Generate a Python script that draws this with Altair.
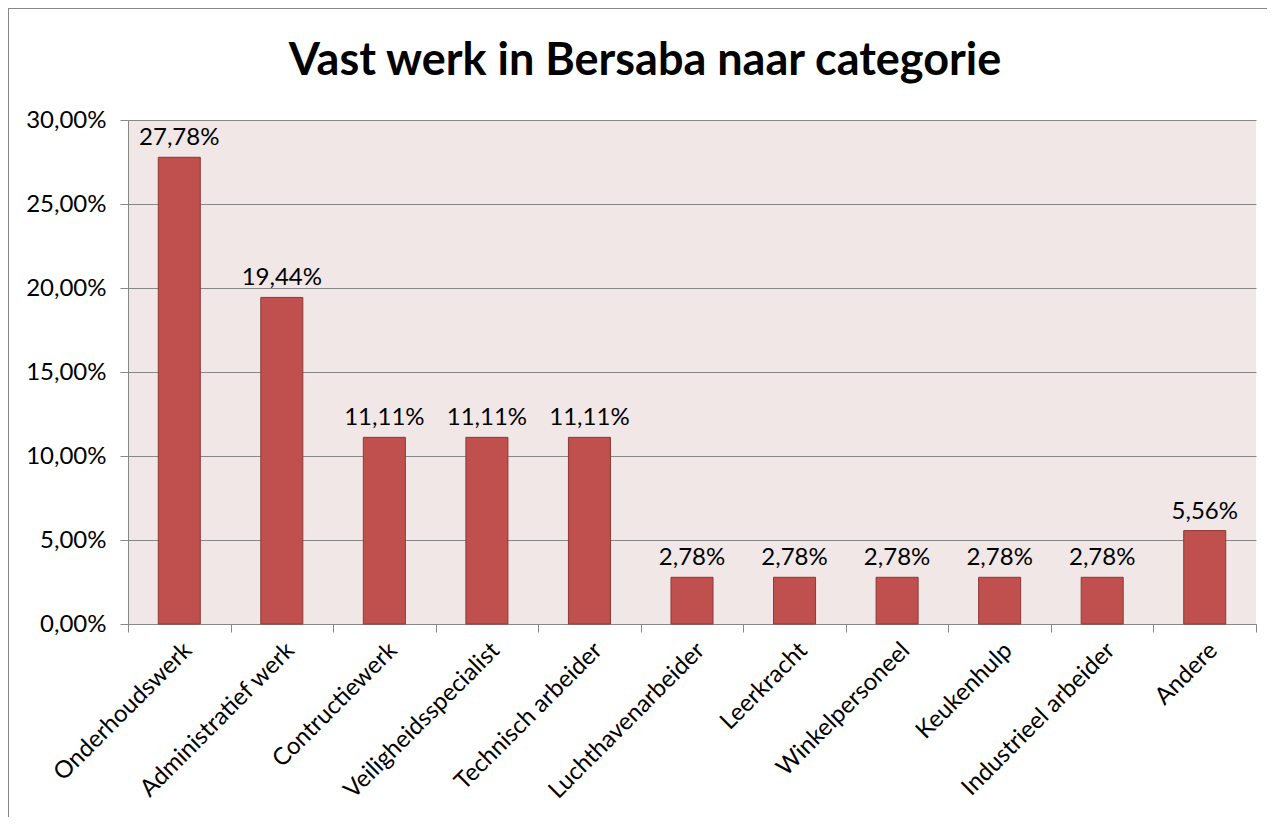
import altair as alt
import pandas as pd

title_text = "Vast werk in Bersaba naar categorie"
categories = ["Onderhoudswerk", "Administratief werk", "Contructiewerk", "Veiligheidsspecialist",
              "Technisch arbeider", "Luchthavenarbeider", "Leerkracht", "Winkelpersoneel",
              "Keukenhulp", "Industrieel arbeider", "Andere"]
values = [27.78, 19.44, 11.11, 11.11, 11.11, 2.78, 2.78, 2.78, 2.78, 2.78, 5.56]
labels = ["27,78%", "19,44%", "11,11%", "11,11%", "11,11%", "2,78%", "2,78%", "2,78%", "2,78%", "2,78%", "5,56%"]

df = pd.DataFrame({"cat": categories, "val": values, "lab": labels})
tdf = pd.DataFrame({"t": [title_text]})

FONT = "Lato"
FS = 24

x = alt.X("cat:N", sort=categories, title=None,
          scale=alt.Scale(paddingInner=0, paddingOuter=0),
          axis=alt.Axis(labelAngle=-45, labelAlign="right", labelBaseline="top",
                        labelFontSize=FS, labelColor="black", labelFont=FONT, labelLimit=0,
                        tickBand="extent", tickSize=8, tickColor="#878787",
                        domainColor="#878787", labelPadding=6))
y = alt.Y("val:Q", title=None,
          scale=alt.Scale(domain=[0, 30]),
          axis=alt.Axis(values=[0, 5, 10, 15, 20, 25, 30],
                        labelExpr="replace(format(datum.value, '.2f'), '.', ',') + '%'",
                        labelFontSize=FS, labelColor="black", labelFont=FONT,
                        tickSize=8, tickColor="#878787", domainColor="#878787",
                        gridColor="#878787", gridWidth=1, labelPadding=14))

frame = alt.Chart(tdf).mark_rect(fillOpacity=0, stroke="#878787", strokeWidth=2, clip=False).encode(
    x=alt.value(-120), x2=alt.value(1200), y=alt.value(-112), y2=alt.value(800))
title = alt.Chart(tdf).mark_text(font=FONT, fontSize=45, fontWeight="bold", color="black",
                                 align="center", baseline="alphabetic", clip=False).encode(
    x=alt.value(517), y=alt.value(-45), text="t:N")
bars = alt.Chart(df).mark_bar(color="#C0504D", stroke="#8C3A38", strokeWidth=1,
                              width=alt.RelativeBandSize(0.41)).encode(x=x, y=y)
text = alt.Chart(df).mark_text(dy=-7, baseline="bottom", fontSize=FS, font=FONT, color="black").encode(
    x=alt.X("cat:N", sort=categories), y="val:Q", text="lab:N")

chart = alt.layer(frame, title, bars, text).properties(
    width=1128, height=504,
    background="white",
    autosize=alt.AutoSizeParams(type="none"),
    padding={"left": 120, "top": 112, "right": 11, "bottom": 193},
).configure_view(fill="#F2E7E7", stroke=None)

chart.save("out.html", embed_options={"renderer": "svg", "actions": False})
